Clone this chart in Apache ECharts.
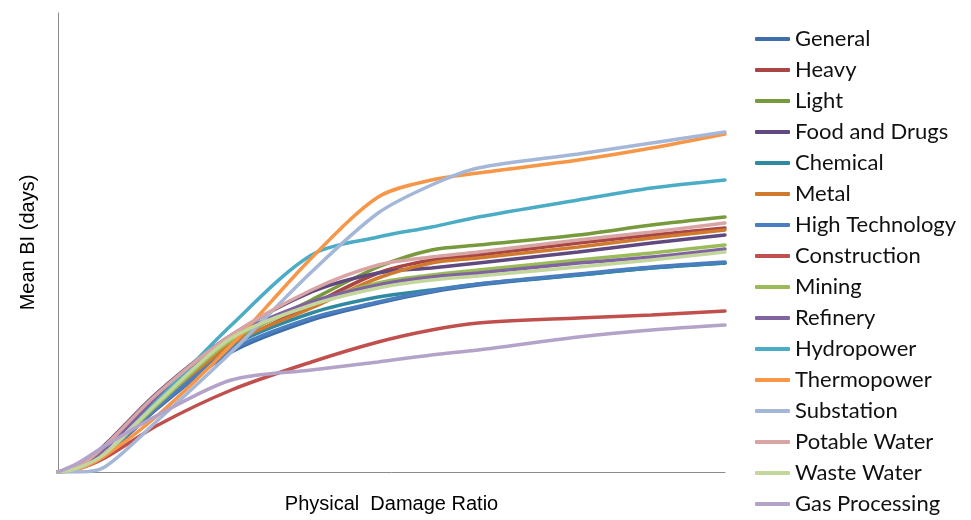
<!DOCTYPE html>
<html>
<head>
<meta charset="utf-8">
<script src="https://cdn.jsdelivr.net/npm/echarts@6/dist/echarts.min.js"></script>
<style>
html,body{margin:0;padding:0;background:#fff;}
#chart{width:971px;height:520px;}
</style>
</head>
<body>
<div id="chart"></div>
<script>
// Physical damage ratio (x) sample points
const damageRatio = [0, 0.03, 0.07, 0.15, 0.26, 0.38, 0.48, 0.56, 0.63, 0.78, 0.89, 1.0];

// Mean BI (days) for each sector
const general      = [0, 4, 17, 64, 120, 152, 169, 180, 187, 197, 204, 209];
const heavy        = [0, 4, 17, 65, 126, 167, 199, 212, 217, 229, 237, 244];
const light        = [0, 4, 17, 67, 130, 172, 205, 222, 227, 237, 247, 255];
const foodDrugs    = [0, 5, 27, 80, 137, 180, 199, 204, 209, 220, 229, 237];
const chemical     = [0, 4, 18, 67, 126, 159, 175, 182, 188, 197, 204, 209];
const metal        = [0, 4, 17, 66, 128, 164, 194, 209, 214, 225, 234, 242];
const highTech     = [0, 4, 17, 65, 122, 154, 170, 181, 188, 198, 205, 210];
const construction = [0, 3, 14, 47, 82, 110, 130, 142, 149, 154, 157, 161];
const mining       = [0, 4, 18, 68, 132, 168, 189, 197, 202, 212, 219, 227];
const refinery     = [0, 5, 23, 75, 135, 170, 187, 195, 199, 209, 215, 223];
const hydropower   = [0, 3, 17, 72, 147, 217, 235, 245, 255, 272, 284, 292];
const thermopower  = [0, 3, 16, 57, 127, 214, 275, 292, 299, 312, 324, 338];
const substation   = [0, 0, 5, 52, 120, 200, 259, 287, 304, 318, 329, 340];
const potableWater = [0, 5, 26, 79, 137, 182, 207, 215, 220, 232, 240, 249];
const wasteWater   = [0, 4, 18, 70, 134, 167, 184, 192, 196, 205, 212, 220];
const gasProcessing= [0, 9, 26, 57, 92, 102, 110, 117, 122, 135, 142, 147];

const seriesNames = ['General','Heavy','Light','Food and Drugs','Chemical','Metal','High Technology','Construction','Mining','Refinery','Hydropower','Thermopower','Substation','Potable Water','Waste Water','Gas Processing'];
const seriesValues = [general, heavy, light, foodDrugs, chemical, metal, highTech, construction, mining, refinery, hydropower, thermopower, substation, potableWater, wasteWater, gasProcessing];
const seriesColors = ['#3E6EA9','#A94542','#779A3C','#60497F','#2F8AA0','#D07A30','#4A7EC0','#C0504D','#9BBB59','#8064A2','#4BACC6','#F79646','#A5B7D8','#D9A5A4','#C3D69B','#B3A3C8'];

const chart = echarts.init(document.getElementById('chart'), null, {renderer:'canvas'});
const series = seriesNames.map((name, i) => ({
  name: name,
  type: 'line',
  smooth: 0.3,
  showSymbol: false,
  symbol: 'none',
  data: damageRatio.map((x, k) => [x, seriesValues[i][k]]),
  lineStyle: {width: 3.5, color: seriesColors[i], cap: 'round'},
  itemStyle: {color: seriesColors[i]},
  z: 2 + i
}));

chart.setOption({
  animation: false,
  color: seriesColors,
  grid: {left: 58, top: 13, right: 246, bottom: 48, containLabel: false},
  legend: {
    orient: 'vertical',
    left: 755,
    top: 28,
    height: 495,
    padding: 0,
    icon: 'roundRect',
    itemWidth: 35,
    itemHeight: 4,
    itemGap: 9,
    textStyle: {fontFamily: 'Lato', fontSize: 22, color: '#111', lineHeight: 22},
    data: seriesNames
  },
  xAxis: {
    type: 'value',
    min: 0,
    max: 1,
    name: 'Physical  Damage Ratio',
    nameLocation: 'middle',
    nameGap: 22,
    nameTextStyle: {fontFamily: 'Liberation Sans', fontSize: 20, color: '#000'},
    axisLine: {show: true, lineStyle: {color: '#8c8c8c', width: 1}},
    axisTick: {show: false},
    axisLabel: {show: false},
    splitLine: {show: false}
  },
  yAxis: {
    type: 'value',
    min: 0,
    max: 459,
    name: 'Mean BI (days)',
    nameLocation: 'middle',
    nameRotate: 90,
    nameGap: 20,
    nameTextStyle: {fontFamily: 'Liberation Sans', fontSize: 20, color: '#000'},
    axisLine: {show: true, lineStyle: {color: '#8c8c8c', width: 1}},
    axisTick: {show: false},
    axisLabel: {show: false},
    splitLine: {show: false}
  },
  series: series
});
</script>
</body>
</html>
